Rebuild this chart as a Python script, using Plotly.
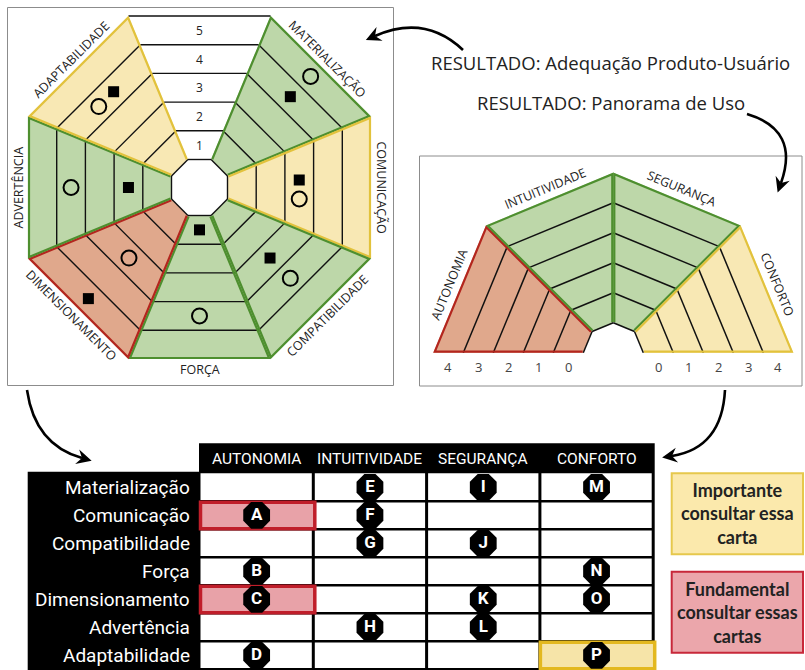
import math

import plotly.graph_objects as go

# ---- data -------------------------------------------------------------
# octagon "Adequação Produto-Usuário": sectors clockwise from the upper-right side
OCT_SECTORS = ["Materialização", "Comunicação", "Compatibilidade", "Força",
               "Dimensionamento", "Advertência", "Adaptabilidade"]
OCT_STATUS = ["ok", "importante", "ok", "ok", "fundamental", "ok", "importante"]
SQUARE_LEVEL = [4, 3, 3, 1, 5, 2, 4]
CIRCLE_LEVEL = [5, 3, 4, 4, 3, 4, 4]
SCALE_LEVELS = [1, 2, 3, 4, 5]

# half octagon "Panorama de Uso", left to right
PAN_SECTORS = ["AUTONOMIA", "INTUITIVIDADE", "SEGURANÇA", "CONFORTO"]
PAN_STATUS = ["fundamental", "ok", "ok", "importante"]
PAN_TICKS = [0, 1, 2, 3, 4]

# card table
TABLE_ROWS = ["Materialização", "Comunicação", "Compatibilidade", "Força",
              "Dimensionamento", "Advertência", "Adaptabilidade"]
TABLE_COLS = ["AUTONOMIA", "INTUITIVIDADE", "SEGURANÇA", "CONFORTO"]
CARD_LETTERS = list("ABCDEFGHIJKLMNOP")
CARD_ROW = ["Comunicação", "Força", "Dimensionamento", "Adaptabilidade",
            "Materialização", "Comunicação", "Compatibilidade", "Advertência",
            "Materialização", "Compatibilidade", "Dimensionamento", "Advertência",
            "Materialização", "Força", "Dimensionamento", "Adaptabilidade"]
CARD_COL = ["AUTONOMIA"] * 4 + ["INTUITIVIDADE"] * 4 + ["SEGURANÇA"] * 4 + ["CONFORTO"] * 4
HIGHLIGHT_ROW = ["Comunicação", "Dimensionamento", "Adaptabilidade"]
HIGHLIGHT_COL = ["AUTONOMIA", "AUTONOMIA", "CONFORTO"]
HIGHLIGHT_STATUS = ["fundamental", "fundamental", "importante"]

LEGEND_TEXT = ["Importante<br>consultar essa<br>carta", "Fundamental<br>consultar essas<br>cartas"]
LEGEND_STATUS = ["importante", "fundamental"]

# ---- style ------------------------------------------------------------
FILL = {"ok": "#bdd7a9", "importante": "#f8e8b4", "fundamental": "#e0a88c", "scale": "#ffffff"}
EDGE = {"ok": "#4e8f2f", "importante": "#e2c23c", "fundamental": "#b3261e", "scale": "#000000"}
CELL_FILL = {"importante": "#f6e4a8", "fundamental": "#e8a2a8"}
CELL_EDGE = {"importante": "#e3b81f", "fundamental": "#c01e2a"}
BOX_FILL = {"importante": "#fbe9ac", "fundamental": "#eba6ab"}
BOX_EDGE = {"importante": "#e6c84c", "fundamental": "#c8283a"}
TEXT = "#222222"

OCT_CX, OCT_CY = 199.5, 187.5
OCT_R_IN, OCT_R_OUT = 28.0, 171.5
PAN_CX, PAN_CY = 613.3, 352.7
PAN_R_IN, PAN_R_OUT = 30.0, 180.0
N_LEVELS = 5
H = math.tan(math.radians(22.5))
# when square and circle share a band they sit side by side (offset along the side)
PAIR_OFFSET = {"Comunicação": (-7.5, 11.5), "Adaptabilidade": (7.0, -14.0)}

TAB_X0, TAB_COL_W = 200.0, 113.3
TAB_Y0, TAB_ROW_H = 473.3, 28.0

fig = go.Figure()
shapes = []
notes = []


def path_of(pts, close=True):
    d = "M " + " L ".join(f"{x:.2f},{y:.2f}" for x, y in pts)
    return d + (" Z" if close else "")


def add_poly(pts, fill=None, color=None, width=0, close=True):
    shapes.append(dict(type="path", path=path_of(pts, close), layer="below",
                       fillcolor=fill if fill else "rgba(0,0,0,0)",
                       line=dict(color=color or "rgba(0,0,0,0)", width=width)))


def inset(pts, d):
    n = len(pts)
    area = sum(pts[i][0] * pts[(i + 1) % n][1] - pts[(i + 1) % n][0] * pts[i][1] for i in range(n))
    sign = 1 if area > 0 else -1
    lines = []
    for i in range(n):
        (x1, y1), (x2, y2) = pts[i], pts[(i + 1) % n]
        ex, ey = x2 - x1, y2 - y1
        ln = math.hypot(ex, ey)
        nx, ny = -ey / ln * sign, ex / ln * sign
        lines.append(((x1 + nx * d, y1 + ny * d), (ex, ey)))
    out = []
    for i in range(n):
        (p1, e1), (p2, e2) = lines[i - 1], lines[i]
        den = e1[0] * e2[1] - e1[1] * e2[0]
        a = ((p2[0] - p1[0]) * e2[1] - (p2[1] - p1[1]) * e2[0]) / den
        out.append((p1[0] + a * e1[0], p1[1] + a * e1[1]))
    return out


def note(x, y, text, size, color=TEXT, family="Open Sans", angle=0, weight="normal", **kw):
    notes.append(dict(x=x, y=y, text=text, showarrow=False, textangle=angle,
                      font=dict(family=family, size=size, color=color, weight=weight), **kw))


# ---- octagon ----------------------------------------------------------
def oct_dirs(k):
    ang = math.radians(-90 + 45 * k)
    nx, ny = math.cos(ang), math.sin(ang)
    return (nx, ny), (-ny, nx)


def oct_pt(k, r, s=0.0, off=0.0):
    (nx, ny), (tx, ty) = oct_dirs(k)
    return (OCT_CX + r * nx + (r * s * H + off) * tx, OCT_CY + r * ny + (r * s * H + off) * ty)


oct_r = [OCT_R_IN + j * (OCT_R_OUT - OCT_R_IN) / N_LEVELS for j in range(N_LEVELS + 1)]
oct_status = ["scale"] + OCT_STATUS

for k, st in enumerate(oct_status):
    add_poly([oct_pt(k, OCT_R_IN, -1), oct_pt(k, OCT_R_IN, 1),
              oct_pt(k, OCT_R_OUT, 1), oct_pt(k, OCT_R_OUT, -1)], fill=FILL[st])
for k, st in enumerate(oct_status):
    last = N_LEVELS + 1 if st == "scale" else N_LEVELS
    for j in range(last):
        add_poly([oct_pt(k, oct_r[j], -1), oct_pt(k, oct_r[j], 1)], color="#111111",
                 width=1.4, close=False)
for k, st in enumerate(oct_status):
    if st == "scale":
        continue
    p = inset([oct_pt(k, OCT_R_IN, -1), oct_pt(k, OCT_R_IN, 1),
               oct_pt(k, OCT_R_OUT, 1), oct_pt(k, OCT_R_OUT, -1)], 1.0)
    add_poly([p[0], p[3], p[2], p[1]], color=EDGE[st], width=2.2, close=False)

for lv in SCALE_LEVELS:
    x, y = oct_pt(0, (oct_r[lv - 1] + oct_r[lv]) / 2)
    note(x, y, str(lv), 12)

sq_x, sq_y, ci_x, ci_y = [], [], [], []
for i, name in enumerate(OCT_SECTORS):
    k = i + 1
    so, co = PAIR_OFFSET.get(name, (0.0, 0.0)) if SQUARE_LEVEL[i] == CIRCLE_LEVEL[i] else (0.0, 0.0)
    x, y = oct_pt(k, (oct_r[SQUARE_LEVEL[i] - 1] + oct_r[SQUARE_LEVEL[i]]) / 2, 0, so)
    sq_x.append(x)
    sq_y.append(y)
    x, y = oct_pt(k, (oct_r[CIRCLE_LEVEL[i] - 1] + oct_r[CIRCLE_LEVEL[i]]) / 2, 0, co)
    ci_x.append(x)
    ci_y.append(y)
    # side label
    theta = -90 + 45 * k
    a = (theta + 90) % 360
    if 90 < a < 270:
        a -= 180
    elif a >= 270:
        a -= 360
    lx, ly = oct_pt(k, OCT_R_OUT + 10)
    note(lx, ly, name.upper(), 12.5, angle=a)

fig.add_trace(go.Scatter(x=sq_x, y=sq_y, mode="markers", hoverinfo="skip",
                         marker=dict(symbol="square", size=11, color="black")))
fig.add_trace(go.Scatter(x=ci_x, y=ci_y, mode="markers", hoverinfo="skip",
                         marker=dict(symbol="circle-open", size=15, color="black",
                                     line=dict(width=2, color="black"))))


# ---- half octagon -----------------------------------------------------
def pan_pt(a_deg, r):
    a = math.radians(a_deg)
    return (PAN_CX + r * math.cos(a), PAN_CY - r * math.sin(a))


pan_r = [PAN_R_IN + j * (PAN_R_OUT - PAN_R_IN) / N_LEVELS for j in range(N_LEVELS + 1)]
for k, st in enumerate(PAN_STATUS):
    a1, a2 = 180 - 45 * k, 135 - 45 * k
    add_poly([pan_pt(a1, PAN_R_IN), pan_pt(a2, PAN_R_IN), pan_pt(a2, PAN_R_OUT), pan_pt(a1, PAN_R_OUT)],
             fill=FILL[st])
for k, st in enumerate(PAN_STATUS):
    a1, a2 = 180 - 45 * k, 135 - 45 * k
    for j in range(N_LEVELS):
        add_poly([pan_pt(a1, pan_r[j]), pan_pt(a2, pan_r[j])], color="#111111", width=1.5, close=False)
for k, st in enumerate(PAN_STATUS):
    a1, a2 = 180 - 45 * k, 135 - 45 * k
    p = inset([pan_pt(a1, PAN_R_IN), pan_pt(a2, PAN_R_IN), pan_pt(a2, PAN_R_OUT), pan_pt(a1, PAN_R_OUT)], 1.0)
    add_poly([p[0], p[3], p[2], p[1]], color=EDGE[st], width=2.2, close=False)
    mid = a1 - 22.5
    lx, ly = pan_pt(mid, PAN_R_OUT * math.cos(math.radians(22.5)) + 11)
    note(lx, ly, PAN_SECTORS[k], 12.5, angle=90 - mid)

for t in PAN_TICKS:
    rm = (pan_r[t] + pan_r[t + 1]) / 2
    note(PAN_CX - rm, 366.5, str(t), 13, color="#444444")
    note(PAN_CX + rm, 366.5, str(t), 13, color="#444444")

# ---- frames, titles, arrows ------------------------------------------
for x0, y0, x1, y1 in [(7.5, 7.5, 393.5, 385.5), (419.5, 156, 802, 386)]:
    shapes.append(dict(type="rect", x0=x0, y0=y0, x1=x1, y1=y1, layer="below",
                       line=dict(color="#8c8c8c", width=1), fillcolor="rgba(0,0,0,0)"))

note(610, 62, "RESULTADO: Adequação Produto-Usuário", 18.5)
note(611, 102, "RESULTADO: Panorama de Uso", 18.5)

ARROWS = [((463, 50), (425, 14), (375, 36)),
          ((747, 114), (800, 130), (781, 183)),
          ((27, 390), (35, 445), (82, 458)),
          ((725, 390), (722, 448), (672, 456))]
for (sx, sy), (qx, qy), (ex, ey) in ARROWS:
    shapes.append(dict(type="path", path=f"M {sx},{sy} Q {qx},{qy} {ex},{ey}",
                       line=dict(color="black", width=2.6), fillcolor="rgba(0,0,0,0)"))
    dx, dy = ex - qx, ey - qy
    ln = math.hypot(dx, dy)
    ux, uy = dx / ln, dy / ln
    tip = (ex + 10 * ux, ey + 10 * uy)
    back = (tip[0] - 15 * ux, tip[1] - 15 * uy)
    notch = (tip[0] - 10 * ux, tip[1] - 10 * uy)
    add_poly([tip, (back[0] - 7.5 * uy, back[1] + 7.5 * ux), notch,
              (back[0] + 7.5 * uy, back[1] - 7.5 * ux)], fill="black")
    shapes[-1]["layer"] = "above"

# ---- table ------------------------------------------------------------
tab_x1 = TAB_X0 + TAB_COL_W * len(TABLE_COLS)
tab_y1 = TAB_Y0 + TAB_ROW_H * len(TABLE_ROWS)
shapes.append(dict(type="rect", x0=TAB_X0 - 1, y0=443.3, x1=tab_x1 + 1.5, y1=tab_y1 + 2,
                   fillcolor="black", line=dict(width=0), layer="below"))
shapes.append(dict(type="rect", x0=27.7, y0=471.7, x1=TAB_X0 + 1, y1=tab_y1 + 2,
                   fillcolor="black", line=dict(width=0), layer="below"))
for r in range(len(TABLE_ROWS)):
    for c in range(len(TABLE_COLS)):
        x0 = TAB_X0 + c * TAB_COL_W
        y0 = TAB_Y0 + r * TAB_ROW_H
        shapes.append(dict(type="rect", x0=x0 + (1.5 if c else 0.5), y0=y0 + (1.2 if r else 0),
                           x1=x0 + TAB_COL_W - 1.5, y1=y0 + TAB_ROW_H - 1.2,
                           fillcolor="white", line=dict(width=0), layer="below"))

for row, col, st in zip(HIGHLIGHT_ROW, HIGHLIGHT_COL, HIGHLIGHT_STATUS):
    r, c = TABLE_ROWS.index(row), TABLE_COLS.index(col)
    x0 = TAB_X0 + c * TAB_COL_W
    y0 = TAB_Y0 + r * TAB_ROW_H
    shapes.append(dict(type="rect", x0=x0 + 0.5, y0=y0 + 1, x1=x0 + TAB_COL_W + 1.5, y1=y0 + TAB_ROW_H - 0.5,
                       fillcolor=CELL_FILL[st], line=dict(color=CELL_EDGE[st], width=3.5), layer="below"))

for r, name in enumerate(TABLE_ROWS):
    note(192, TAB_Y0 + (r + 0.5) * TAB_ROW_H, name, 19, color="white", family="Roboto", xanchor="right")
for c, name in enumerate(TABLE_COLS):
    note(TAB_X0 + (c + 0.5) * TAB_COL_W, 458.5, name, 15.5, color="white", family="Roboto")

card_x = [TAB_X0 + (TABLE_COLS.index(c) + 0.5) * TAB_COL_W for c in CARD_COL]
card_y = [TAB_Y0 + (TABLE_ROWS.index(r) + 0.5) * TAB_ROW_H for r in CARD_ROW]
fig.add_trace(go.Scatter(x=card_x, y=card_y, mode="markers+text", text=CARD_LETTERS,
                         textposition="middle center", hoverinfo="skip",
                         textfont=dict(family="Roboto", size=17, color="white", weight="bold"),
                         marker=dict(symbol="octagon", size=29, color="black")))

# legend boxes
for i, (txt, st) in enumerate(zip(LEGEND_TEXT, LEGEND_STATUS)):
    y0 = 473.3 + i * 98.4
    shapes.append(dict(type="rect", x0=671.7, y0=y0, x1=803, y1=y0 + 81,
                       fillcolor=BOX_FILL[st], line=dict(color=BOX_EDGE[st], width=2), layer="below"))
    note(737.3, y0 + 40.5, txt, 18, color="#222222", family="Lato", weight="bold")

fig.update_layout(
    width=805, height=670,
    margin=dict(l=0, r=0, t=0, b=0),
    paper_bgcolor="white", plot_bgcolor="white",
    showlegend=False,
    shapes=shapes,
    annotations=notes,
    xaxis=dict(range=[0, 805], visible=False, fixedrange=True),
    yaxis=dict(range=[670, 0], visible=False, fixedrange=True),
)
# the page body has a default 8px margin; drop it so the figure fills the window
fig.write_html("out.html", config={"displayModeBar": False},
               post_script="document.body.style.margin = '0px';")
